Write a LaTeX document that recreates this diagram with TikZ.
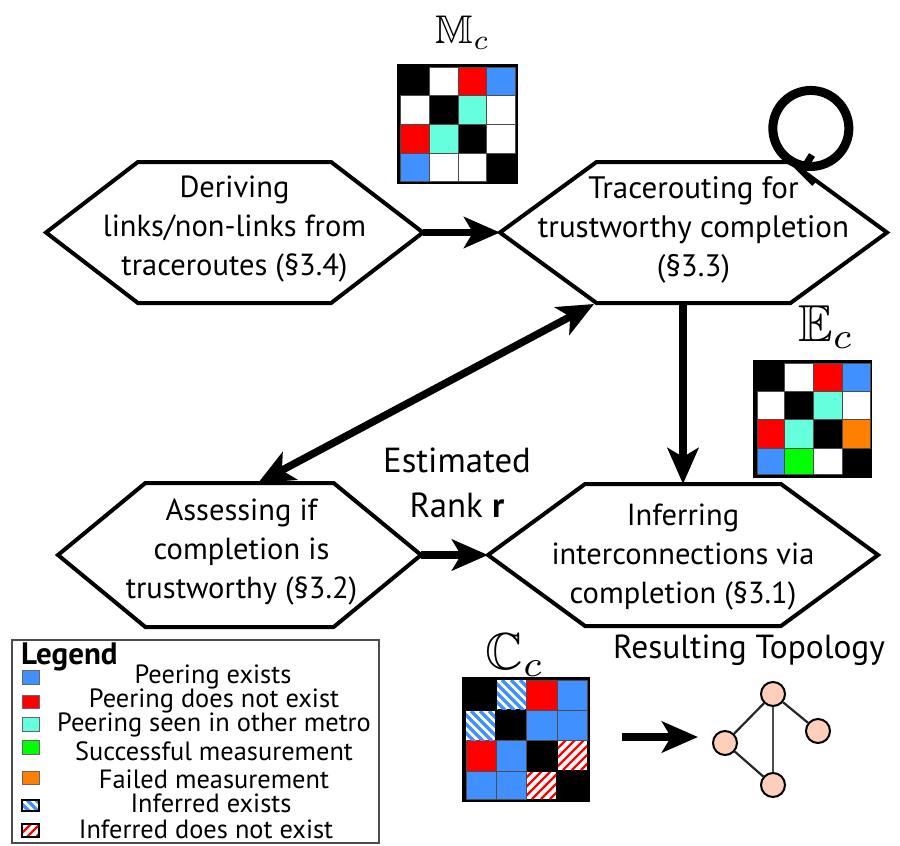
\documentclass[tikz,border=0pt]{standalone}
\usepackage{amsmath,amssymb}
\usepackage{fontspec}
\setmainfont{PT Sans}
\usetikzlibrary{shapes.symbols,arrows.meta,calc}
\definecolor{cblue}{HTML}{4090FF}
\definecolor{cred}{HTML}{FF0000}
\definecolor{caqua}{HTML}{66FFDD}
\definecolor{cgreen}{HTML}{00FF00}
\definecolor{corange}{HTML}{FF8000}
\definecolor{cpeach}{HTML}{FFCFBB}
\tikzset{
  hexbox/.style={draw=black,fill=white,line width=4pt,shape=signal,signal to=east and west,
    inner sep=0pt,outer sep=0pt},
  hextext/.style={inner sep=0pt,align=center,font=\fontsize{30.5}{39}\selectfont},
  flow/.style={line width=7.5pt,-{Stealth[length=36pt,width=31pt,inset=9pt]}},
  flowboth/.style={line width=7.5pt,{Stealth[length=36pt,width=31pt,inset=9pt]}-{Stealth[length=36pt,width=31pt,inset=9pt]}},
  looparrow/.style={line width=9pt,line cap=butt},
  maintext/.style={font=\fontsize{34.8}{45}\selectfont,align=center,inner sep=0pt},
  legtext/.style={font=\fontsize{26.4}{26.4}\selectfont,inner sep=0pt,anchor=center},
  mathlabel/.style={inner sep=0pt},
  cellgrid/.style={draw=black!70,line width=1pt},
  swatch/.style={draw=black!60,line width=1pt},
  topo/.style={circle,draw=black,fill=cpeach,line width=2pt,minimum size=24pt,inner sep=0pt},
  topoedge/.style={draw=black!85,line width=2.2pt},
}
\newcommand{\hatchblue}[4]{%
  \begin{scope}
    \clip (#1,#2) rectangle (#3,#4);
    \fill[white] (#1,#2) rectangle (#3,#4);
    \foreach \d in {-40,-31,...,40}
      \draw[cblue,line width=3.2pt] ($(#1,#2)+(\d,0)$) -- ++(50,50);
  \end{scope}}
\newcommand{\hatchred}[4]{%
  \begin{scope}
    \clip (#1,#2) rectangle (#3,#4);
    \fill[white] (#1,#2) rectangle (#3,#4);
    \foreach \d in {-40,-31,...,60}
      \draw[cred,line width=2.4pt] ($(#1,#4)+(\d,0)$) -- ++(50,-50);
  \end{scope}}
\newcommand{\gridmat}[1]{%
  \foreach \xa/\ya/\xb/\yb/\cc in {#1}
    \path[fill=\cc,cellgrid] (\xa,\ya) rectangle (\xb,\yb);}
\begin{document}
\begin{tikzpicture}[x=1pt,y=-1pt]
\useasboundingbox (0,0) rectangle (900,846);

% Hexagons
\node[hexbox,signal pointer angle=75,minimum width=377pt,minimum height=141pt] (derive) at (234.5,232.5) {};
\node[hextext,yshift=3pt] (deriveT) at (derive.center) {Deriving\\links/non-links from\\traceroutes (\S3.4)};
\node[hexbox,signal pointer angle=72.3,minimum width=387pt,minimum height=141pt] (trace) at (693.5,232.5) {};
\node[hextext,font=\fontsize{31}{39}\selectfont,yshift=2.5pt] (traceT) at (trace.center) {Tracerouting for\\trustworthy completion\\(\S3.3)};
\node[hexbox,signal pointer angle=79,minimum width=363pt,minimum height=144pt] (assess) at (239.5,555) {};
\node[hextext,xshift=2pt,yshift=2.5pt] (assessT) at (assess.center) {Assessing if\\completion is\\trustworthy (\S3.2)};
\node[hexbox,signal pointer angle=72.4,minimum width=390pt,minimum height=142pt] (infer) at (683,555) {};
\node[hextext,yshift=-2pt] (inferT) at (infer.center) {Inferring\\interconnections via\\completion (\S3.1)};

% Connectors
\draw[flow] (derive.east) -- (trace.west);
\draw[flow] (assess.east) -- (infer.west);
\draw[flow] (infer.north |- trace.south) -- (infer.north);
\coordinate (dblA) at (258,483);
\coordinate (dblB) at (594,304);
\draw[flowboth] (dblA) -- (dblB);

% Self loop
\draw[looparrow] (793,162) arc[start angle=118,end angle=-242,radius=38];
\coordinate (loopbarbA) at (812,155);
\coordinate (looptip) at (802,171);
\coordinate (loopedgeA) at (793,163);
\coordinate (loopedgeB) at (814,184);
\draw[line width=7pt] (loopbarbA) -- (looptip);
\draw[line width=5pt] (loopedgeA) -- (loopedgeB);

% Rank label
\node[maintext] (rank) at (457,483) {Estimated\\Rank \textbf{r}};

% Matrix M
\fill[black] (397,64) rectangle (518,184);
\gridmat{429/67/458/95/white,458/67/486/95/cred,486/67/515/95/cblue,
 400/95/429/124/white,458/95/486/124/caqua,486/95/515/124/white,
 400/124/429/153/cred,429/124/458/153/caqua,486/124/515/153/white,
 400/153/429/181/cblue,429/153/458/181/white,458/153/486/181/white}
\node[mathlabel,scale=4] (mlabel) at (463,33) {$\mathbb{M}_c$};

% Matrix E
\fill[black] (753,360) rectangle (872,478);
\gridmat{784/363/813/391/white,813/363/842/391/cred,842/363/870/391/cblue,
 757/391/784/419/white,813/391/842/419/caqua,842/391/870/419/white,
 757/419/784/448/cred,784/419/813/448/caqua,842/419/870/448/corange,
 757/448/784/474/cblue,784/448/813/474/cgreen,813/448/842/474/white}
\node[mathlabel,scale=5.2] (elabel) at (826,327) {$\mathbb{E}_c$};

% Matrix C
\fill[black] (462,677) rectangle (590,802);
\gridmat{526/680/557/710/cred,557/680/587/710/cblue,
 526/710/557/740/cblue,557/710/587/740/cblue,
 466/740/496/771/cred,496/740/526/771/cblue,
 466/771/496/799/cblue,496/771/526/799/cblue}
\hatchblue{497}{680}{526}{709}
\hatchblue{466}{711}{495}{740}
\hatchred{558}{741}{587}{770}
\hatchred{527}{772}{556}{799}
\node[mathlabel,scale=5.2] (clabel) at (515,655) {$\mathbb{C}_c$};

% Topology
\node[font=\fontsize{33.4}{36}\selectfont,inner sep=0pt] (result) at (749,650) {Resulting Topology};
\coordinate (arrA) at (622,737);
\coordinate (arrB) at (698,737);
\draw[flow] (arrA) -- (arrB);
\node[topo] (ttop) at (773,694) {};
\node[topo] (tright) at (818,731) {};
\node[topo] (tleft) at (725,743) {};
\node[topo] (tbot) at (773,785) {};
\draw[topoedge] (ttop) -- (tright);
\draw[topoedge] (ttop) -- (tleft);
\draw[topoedge,draw=black!70] (ttop) -- (tbot);
\draw[topoedge] (tleft) -- (tbot);

% Legend
\draw[draw=black!70,line width=2pt,fill=white] (12,640) rectangle (379,843);
\node[font=\bfseries\fontsize{31}{31}\selectfont,inner sep=0pt,anchor=west] (legtitle) at (21,657) {Legend};
\path[swatch,fill=cblue] (22,670) rectangle (39,684);
\path[swatch,fill=cred] (22,695) rectangle (39,708);
\path[swatch,fill=caqua] (22,717) rectangle (39,731);
\path[swatch,fill=cgreen] (22,740) rectangle (39,754);
\path[swatch,fill=corange] (22,771) rectangle (39,784);
\hatchblue{22}{800}{39}{811}
\path[draw=black,line width=1.5pt] (22,800) rectangle (39,811);
\hatchred{22}{824}{39}{837}
\path[draw=black,line width=1.5pt] (22,824) rectangle (39,837);
\node[legtext] (l1) at (213,677) {Peering exists};
\node[legtext] (l2) at (214,701) {Peering does not exist};
\node[legtext] (l3) at (214,725) {Peering seen in other metro};
\node[legtext] (l4) at (214,751) {Successful measurement};
\node[legtext] (l5) at (214,779) {Failed measurement};
\node[legtext] (l6) at (211,803) {Inferred exists};
\node[legtext] (l7) at (206,829) {Inferred does not exist};
\end{tikzpicture}
\end{document}
